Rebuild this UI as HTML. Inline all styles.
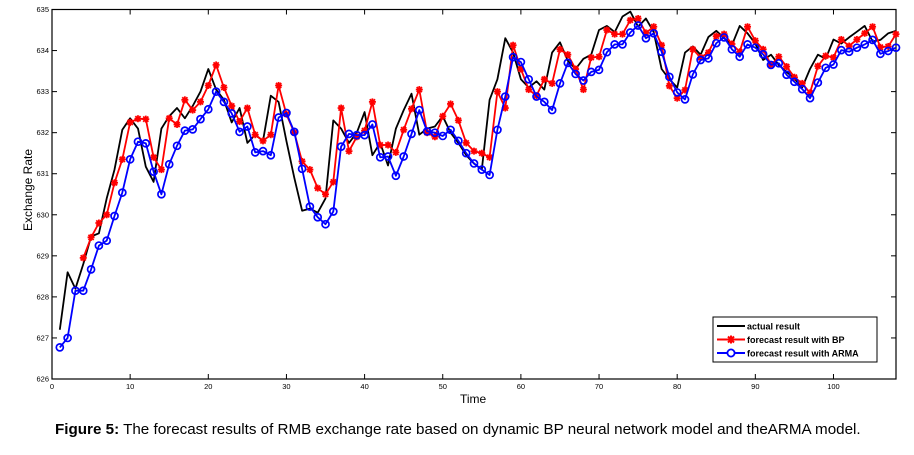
<!DOCTYPE html>
<html><head><meta charset="utf-8"><style>
body{margin:0;background:#fff;width:914px;height:450px;overflow:hidden;font-family:"Liberation Sans",sans-serif}
</style></head><body>
<svg id="chart" width="914" height="450" xmlns="http://www.w3.org/2000/svg" font-family="Liberation Sans, sans-serif"></svg>
<script>
const xTicks=[0,10,20,30,40,50,60,70,80,90,100];
const yTicks=[626,627,628,629,630,631,632,633,634,635];
const actual=[627.2,628.6,628.2,628.8,629.47,629.55,630.4,631.1,632.07,632.35,632.1,631.17,630.8,632.1,632.4,632.6,632.35,632.65,633.0,633.55,633.05,632.8,632.25,632.6,631.75,631.95,631.8,632.9,632.75,631.8,630.9,630.1,630.15,630.05,630.4,632.3,632.1,631.75,632.0,632.5,631.45,631.75,631.2,632.1,632.55,632.95,631.95,632.1,632.15,632.4,632.0,631.75,631.45,631.25,631.1,632.8,633.3,634.3,633.95,633.3,633.1,633.25,633.05,633.95,634.2,633.75,633.55,633.8,633.9,634.5,634.6,634.45,634.83,634.95,634.58,634.78,634.45,633.55,633.3,633.1,633.95,634.1,633.9,634.33,634.48,634.3,634.13,634.6,634.42,634.17,633.77,633.9,633.65,633.48,633.32,633.1,633.55,633.9,633.8,634.27,634.17,634.32,634.46,634.6,634.22,634.26,634.42,634.48];
const bpStart=4;
const bp=[628.95,629.45,629.8,630.0,630.78,631.35,632.25,632.34,632.33,631.4,631.1,632.35,632.2,632.8,632.55,632.75,633.15,633.65,633.1,632.65,632.27,632.6,631.95,631.8,631.95,633.15,632.45,632.0,631.3,631.1,630.65,630.5,630.8,632.6,631.55,631.9,632.05,632.75,631.7,631.7,631.52,632.07,632.58,633.05,632.0,631.9,632.4,632.7,632.3,631.75,631.55,631.5,631.4,633.0,632.6,634.13,633.55,633.05,632.9,633.3,633.2,634.03,633.9,633.55,633.05,633.83,633.85,634.5,634.4,634.4,634.74,634.78,634.43,634.58,634.13,633.14,632.84,633.04,634.03,633.83,633.95,634.35,634.4,634.16,633.97,634.58,634.24,634.03,633.65,633.85,633.61,633.35,633.2,632.97,633.62,633.87,633.83,634.27,634.11,634.27,634.42,634.58,634.08,634.1,634.4];
const arma=[626.77,627.0,628.15,628.15,628.67,629.25,629.37,629.97,630.54,631.35,631.78,631.74,631.05,630.5,631.23,631.68,632.05,632.08,632.33,632.57,633.0,632.75,632.47,632.02,632.15,631.52,631.55,631.45,632.37,632.48,632.02,631.12,630.2,629.94,629.77,630.08,631.66,631.97,631.94,631.94,632.2,631.4,631.42,630.95,631.42,631.97,632.55,632.03,632.0,631.92,632.07,631.8,631.5,631.25,631.1,630.97,632.07,632.88,633.84,633.72,633.3,632.88,632.75,632.55,633.2,633.7,633.43,633.27,633.48,633.53,633.96,634.15,634.15,634.44,634.61,634.3,634.42,633.97,633.36,632.98,632.81,633.42,633.77,633.81,634.18,634.32,634.03,633.85,634.15,634.07,633.91,633.65,633.69,633.41,633.24,633.06,632.84,633.22,633.58,633.66,634.01,633.97,634.07,634.15,634.26,633.92,633.99,634.07];

const L=52,R=896,T=9.5,B=379,XMAX=108;
const X=t=>L+(t)*(R-L)/XMAX;
const Y=v=>B-(v-626)*(B-T)/9;
const svg=document.getElementById('chart');
const NS='http://www.w3.org/2000/svg';
function mk(tag,attrs,parent){const e=document.createElementNS(NS,tag);for(const k in attrs)e.setAttribute(k,attrs[k]);(parent||svg).appendChild(e);return e;}

const axes=mk('g',{});


xTicks.forEach(t=>{
  mk('line',{x1:X(t),x2:X(t),y1:B,y2:B-5,stroke:'#000','stroke-width':1},axes);
  mk('line',{x1:X(t),x2:X(t),y1:T,y2:T+5,stroke:'#000','stroke-width':1},axes);
  const tx=mk('text',{x:X(t),y:B+10,'font-size':7.5,'text-anchor':'middle'},axes);
  tx.textContent=t;
  
  
});
yTicks.forEach(v=>{
  mk('line',{x1:L,x2:L+5,y1:Y(v),y2:Y(v),stroke:'#000','stroke-width':1},axes);
  mk('line',{x1:R,x2:R-5,y1:Y(v),y2:Y(v),stroke:'#000','stroke-width':1},axes);
  const tx=mk('text',{x:L-3,y:Y(v)+2.5,'font-size':7.5,'text-anchor':'end'},axes);
  tx.textContent=v;
  
  
});
const frame=mk('rect',{x:L,y:T,width:R-L,height:B-T,fill:'none',stroke:'#000','stroke-width':1.2});



function line(vals,start,color,name){
  const pts=vals.map((v,i)=>X(i+start).toFixed(1)+','+Y(v).toFixed(1)).join(' ');
  const p=mk('polyline',{points:pts,fill:'none',stroke:color,'stroke-width':1.8,'stroke-linejoin':'round'});
  
  
}
line(actual,1,'#000','actual-line');
line(bp,bpStart,'#f00','bp-line');
bp.forEach((v,i)=>{
  const x=X(i+bpStart),y=Y(v);
  const g=mk('g',{stroke:'#f00','stroke-width':1.8});
  
  
  mk('line',{x1:x-3.5,x2:x+3.5,y1:y,y2:y},g);
  mk('line',{x1:x,x2:x,y1:y-3.5,y2:y+3.5},g);
  mk('line',{x1:x-2.6,x2:x+2.6,y1:y-2.6,y2:y+2.6},g);
  mk('line',{x1:x-2.6,x2:x+2.6,y1:y+2.6,y2:y-2.6},g);
});
line(arma,1,'#00f','arma-line');
arma.forEach((v,i)=>{
  const c=mk('circle',{cx:X(i+1),cy:Y(v),r:3.5,fill:'none',stroke:'#00f','stroke-width':1.7});
  
  
});

const lg=mk('g',{});


mk('rect',{x:713,y:317,width:164,height:45,fill:'#fff',stroke:'#000','stroke-width':1},lg);
const items=[['actual result','#000',0],['forecast result with BP','#f00',1],['forecast result with ARMA','#00f',2]];
items.forEach(([txt,col,k])=>{
  const y=326+k*13.5;
  const e=mk('g',{},lg);
  
  
  mk('line',{x1:717,x2:745,y1:y,y2:y,stroke:col,'stroke-width':2},e);
  if(k==1){mk('line',{x1:727,x2:735,y1:y,y2:y,stroke:col,'stroke-width':2},e);mk('line',{x1:731,x2:731,y1:y-4,y2:y+4,stroke:col,'stroke-width':2},e);mk('line',{x1:728,x2:734,y1:y-3,y2:y+3,stroke:col,'stroke-width':2},e);mk('line',{x1:728,x2:734,y1:y+3,y2:y-3,stroke:col,'stroke-width':2},e);}
  if(k==2){mk('circle',{cx:731,cy:y,r:3.6,fill:'#fff',stroke:col,'stroke-width':1.8},e);}
  const t=mk('text',{x:747,y:y+3.5,'font-size':9,'font-weight':'bold'},e);
  t.textContent=txt;
});
</script>
<div style="position:absolute;left:28px;top:190px;transform:translate(-50%,-50%) rotate(-90deg);font-size:12px;white-space:nowrap">Exchange Rate</div>
<div style="position:absolute;left:460px;top:392px;font-size:12px">Time</div>
<div style="position:absolute;left:55px;top:421px;font-size:15.2px;white-space:nowrap"><b>Figure 5:</b> The forecast results of RMB exchange rate based on dynamic BP neural network model and theARMA model.</div>
</body></html>
